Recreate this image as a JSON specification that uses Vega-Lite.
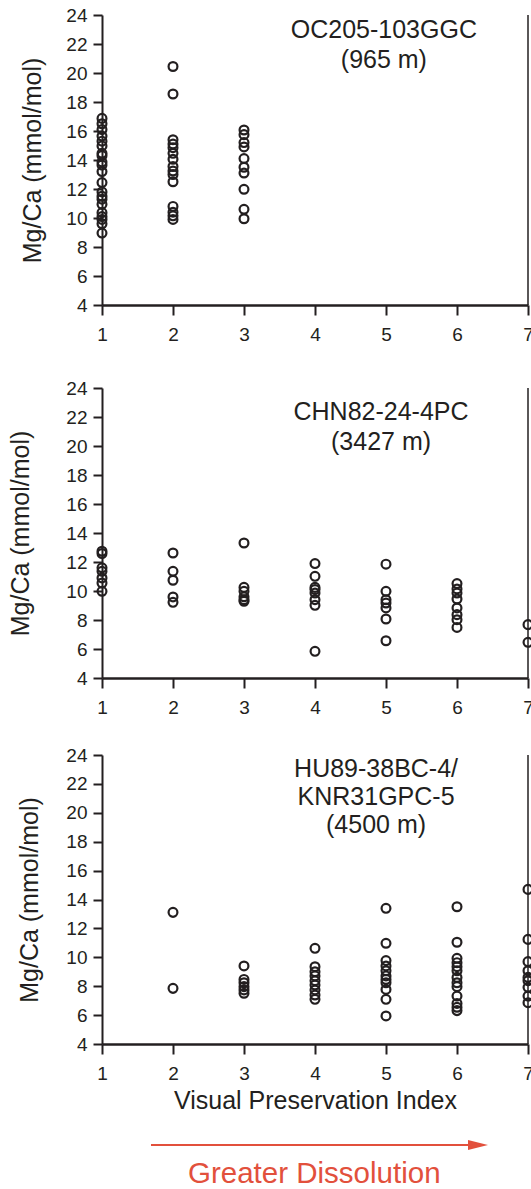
{
  "$schema": "https://vega.github.io/schema/vega-lite/v6.json",
  "padding": {"top": 6, "left": 8, "right": -4, "bottom": 0},
  "config": {
    "view": {"stroke": null},
    "font": "Liberation Sans",
    "axis": {
      "domainColor": "#231f20", "tickColor": "#231f20", "labelColor": "#231f20", "titleColor": "#231f20",
      "labelFont": "Liberation Sans", "titleFont": "Liberation Sans",
      "labelFontSize": 19, "titleFontSize": 25, "titleFontWeight": "normal",
      "grid": false, "tickWidth": 2, "domainWidth": 2, "labelFlush": false, "labelOverlap": false, "format": "d"
    },
    "axisX": {"tickSize": 10, "labelPadding": 10, "domainWidth": 2.5},
    "axisY": {"tickSize": 9, "labelPadding": 6}
  },
  "spacing": 35,
  "vconcat": [
    {
      "width": 426, "height": 290,
      "resolve": {"axis": {"x": "independent", "y": "independent"}},
      "layer": [
        {
          "data": {"values": [
            {"vpi": 1, "mgca": 16.87}, {"vpi": 1, "mgca": 16.5}, {"vpi": 1, "mgca": 16.1}, {"vpi": 1, "mgca": 15.65}, {"vpi": 1, "mgca": 15.3},
            {"vpi": 1, "mgca": 14.97}, {"vpi": 1, "mgca": 14.46}, {"vpi": 1, "mgca": 14.3}, {"vpi": 1, "mgca": 13.86}, {"vpi": 1, "mgca": 13.65},
            {"vpi": 1, "mgca": 13.2}, {"vpi": 1, "mgca": 12.44}, {"vpi": 1, "mgca": 11.8}, {"vpi": 1, "mgca": 11.5}, {"vpi": 1, "mgca": 11.3},
            {"vpi": 1, "mgca": 10.94}, {"vpi": 1, "mgca": 10.37}, {"vpi": 1, "mgca": 10.1}, {"vpi": 1, "mgca": 9.9}, {"vpi": 1, "mgca": 9.6},
            {"vpi": 1, "mgca": 8.96},
            {"vpi": 2, "mgca": 20.45}, {"vpi": 2, "mgca": 18.55}, {"vpi": 2, "mgca": 15.4}, {"vpi": 2, "mgca": 15.1}, {"vpi": 2, "mgca": 14.85},
            {"vpi": 2, "mgca": 14.46}, {"vpi": 2, "mgca": 14.05}, {"vpi": 2, "mgca": 13.55}, {"vpi": 2, "mgca": 13.24}, {"vpi": 2, "mgca": 13.0},
            {"vpi": 2, "mgca": 12.5}, {"vpi": 2, "mgca": 10.8}, {"vpi": 2, "mgca": 10.4}, {"vpi": 2, "mgca": 10.15}, {"vpi": 2, "mgca": 9.9},
            {"vpi": 3, "mgca": 16.07}, {"vpi": 3, "mgca": 15.75}, {"vpi": 3, "mgca": 15.2}, {"vpi": 3, "mgca": 14.9}, {"vpi": 3, "mgca": 14.1},
            {"vpi": 3, "mgca": 13.5}, {"vpi": 3, "mgca": 13.1}, {"vpi": 3, "mgca": 11.98}, {"vpi": 3, "mgca": 10.6}, {"vpi": 3, "mgca": 9.95}
          ]},
          "mark": {"type": "point", "filled": false, "size": 78, "strokeWidth": 2.2, "color": "#231f20", "opacity": 1},
          "encoding": {
            "x": {"field": "vpi", "type": "quantitative", "scale": {"domain": [1, 7], "nice": false, "zero": false},
                  "axis": {"values": [1, 2, 3, 4, 5, 6, 7], "title": null, "format": "d"}},
            "y": {"field": "mgca", "type": "quantitative", "scale": {"domain": [4, 24], "nice": false, "zero": false},
                  "axis": {"values": [4, 6, 8, 10, 12, 14, 16, 18, 20, 22, 24], "labelOverlap": false, "format": "d", "title": "Mg/Ca (mmol/mol)", "titlePadding": 20}}
          }
        },
        {
          "data": {"values": [{"x": 7, "y": 4, "y2": 24}]},
          "mark": {"type": "rule", "strokeWidth": 1.5, "color": "#231f20"},
          "encoding": {"x": {"field": "x", "type": "quantitative", "axis": null}, "y": {"field": "y", "type": "quantitative", "axis": null}, "y2": {"field": "y2"}}
        },
        {
          "data": {"values": [{"x": 4.97, "y": 22.41, "label": "OC205-103GGC\n(965 m)"}]},
          "mark": {"type": "text", "lineBreak": "\n", "fontSize": 25, "lineHeight": 30, "align": "center", "baseline": "alphabetic", "color": "#231f20"},
          "encoding": {"x": {"field": "x", "type": "quantitative", "axis": null}, "y": {"field": "y", "type": "quantitative", "axis": null}, "text": {"field": "label"}}
        }
      ]
    },
    {
      "spacing": 29,
      "vconcat": [
        {
          "width": 426, "height": 290,
          "resolve": {"axis": {"x": "independent", "y": "independent"}},
          "layer": [
            {
              "data": {"values": [
                {"vpi": 1, "mgca": 12.74}, {"vpi": 1, "mgca": 12.58}, {"vpi": 1, "mgca": 11.6}, {"vpi": 1, "mgca": 11.36}, {"vpi": 1, "mgca": 10.9},
                {"vpi": 1, "mgca": 10.55}, {"vpi": 1, "mgca": 9.98},
                {"vpi": 2, "mgca": 12.62}, {"vpi": 2, "mgca": 11.36}, {"vpi": 2, "mgca": 10.74}, {"vpi": 2, "mgca": 9.59}, {"vpi": 2, "mgca": 9.22},
                {"vpi": 3, "mgca": 13.31}, {"vpi": 3, "mgca": 10.25}, {"vpi": 3, "mgca": 9.98}, {"vpi": 3, "mgca": 9.6}, {"vpi": 3, "mgca": 9.4}, {"vpi": 3, "mgca": 9.29},
                {"vpi": 4, "mgca": 11.89}, {"vpi": 4, "mgca": 11.01}, {"vpi": 4, "mgca": 10.25}, {"vpi": 4, "mgca": 10.1}, {"vpi": 4, "mgca": 9.86},
                {"vpi": 4, "mgca": 9.4}, {"vpi": 4, "mgca": 9.01}, {"vpi": 4, "mgca": 5.84},
                {"vpi": 5, "mgca": 11.85}, {"vpi": 5, "mgca": 9.98}, {"vpi": 5, "mgca": 9.4}, {"vpi": 5, "mgca": 9.17}, {"vpi": 5, "mgca": 8.83},
                {"vpi": 5, "mgca": 8.07}, {"vpi": 5, "mgca": 6.57},
                {"vpi": 6, "mgca": 10.51}, {"vpi": 6, "mgca": 10.14}, {"vpi": 6, "mgca": 9.86}, {"vpi": 6, "mgca": 9.45}, {"vpi": 6, "mgca": 8.83},
                {"vpi": 6, "mgca": 8.37}, {"vpi": 6, "mgca": 8.02}, {"vpi": 6, "mgca": 7.49},
                {"vpi": 7, "mgca": 7.68}, {"vpi": 7, "mgca": 6.46}
              ]},
              "mark": {"type": "point", "filled": false, "size": 78, "strokeWidth": 2.2, "color": "#231f20", "opacity": 1},
              "encoding": {
                "x": {"field": "vpi", "type": "quantitative", "scale": {"domain": [1, 7], "nice": false, "zero": false},
                      "axis": {"values": [1, 2, 3, 4, 5, 6, 7], "title": null, "format": "d"}},
                "y": {"field": "mgca", "type": "quantitative", "scale": {"domain": [4, 24], "nice": false, "zero": false},
                      "axis": {"values": [4, 6, 8, 10, 12, 14, 16, 18, 20, 22, 24], "labelOverlap": false, "format": "d", "title": "Mg/Ca (mmol/mol)", "titlePadding": 32}}
              }
            },
            {
              "data": {"values": [{"x": 7, "y": 4, "y2": 24}]},
              "mark": {"type": "rule", "strokeWidth": 1.5, "color": "#231f20"},
              "encoding": {"x": {"field": "x", "type": "quantitative", "axis": null}, "y": {"field": "y", "type": "quantitative", "axis": null}, "y2": {"field": "y2"}}
            },
            {
              "data": {"values": [{"x": 4.93, "y": 21.79, "label": "CHN82-24-4PC\n(3427 m)"}]},
              "mark": {"type": "text", "lineBreak": "\n", "fontSize": 25, "lineHeight": 30, "align": "center", "baseline": "alphabetic", "color": "#231f20"},
              "encoding": {"x": {"field": "x", "type": "quantitative", "axis": null}, "y": {"field": "y", "type": "quantitative", "axis": null}, "text": {"field": "label"}}
            }
          ]
        },
        {
          "spacing": 17,
          "vconcat": [
            {
              "width": 426, "height": 289,
              "resolve": {"axis": {"x": "independent", "y": "independent"}},
              "layer": [
                {
                  "data": {"values": [
                    {"vpi": 2, "mgca": 13.11}, {"vpi": 2, "mgca": 7.85},
                    {"vpi": 3, "mgca": 9.4}, {"vpi": 3, "mgca": 8.47}, {"vpi": 3, "mgca": 8.24}, {"vpi": 3, "mgca": 7.97}, {"vpi": 3, "mgca": 7.74}, {"vpi": 3, "mgca": 7.51},
                    {"vpi": 4, "mgca": 10.62}, {"vpi": 4, "mgca": 9.35}, {"vpi": 4, "mgca": 9.0}, {"vpi": 4, "mgca": 8.71}, {"vpi": 4, "mgca": 8.38},
                    {"vpi": 4, "mgca": 8.08}, {"vpi": 4, "mgca": 7.74}, {"vpi": 4, "mgca": 7.39}, {"vpi": 4, "mgca": 7.09},
                    {"vpi": 5, "mgca": 13.39}, {"vpi": 5, "mgca": 10.97}, {"vpi": 5, "mgca": 9.77}, {"vpi": 5, "mgca": 9.4}, {"vpi": 5, "mgca": 9.07},
                    {"vpi": 5, "mgca": 8.71}, {"vpi": 5, "mgca": 8.47}, {"vpi": 5, "mgca": 8.24}, {"vpi": 5, "mgca": 7.78}, {"vpi": 5, "mgca": 7.09}, {"vpi": 5, "mgca": 5.94},
                    {"vpi": 6, "mgca": 13.5}, {"vpi": 6, "mgca": 11.04}, {"vpi": 6, "mgca": 9.93}, {"vpi": 6, "mgca": 9.63}, {"vpi": 6, "mgca": 9.35},
                    {"vpi": 6, "mgca": 9.07}, {"vpi": 6, "mgca": 8.61}, {"vpi": 6, "mgca": 8.24}, {"vpi": 6, "mgca": 7.97}, {"vpi": 6, "mgca": 7.32},
                    {"vpi": 6, "mgca": 6.81}, {"vpi": 6, "mgca": 6.54}, {"vpi": 6, "mgca": 6.31},
                    {"vpi": 7, "mgca": 14.7}, {"vpi": 7, "mgca": 11.24}, {"vpi": 7, "mgca": 9.7}, {"vpi": 7, "mgca": 9.07}, {"vpi": 7, "mgca": 8.61},
                    {"vpi": 7, "mgca": 8.38}, {"vpi": 7, "mgca": 7.92}, {"vpi": 7, "mgca": 7.32}, {"vpi": 7, "mgca": 6.86}
                  ]},
                  "mark": {"type": "point", "filled": false, "size": 78, "strokeWidth": 2.2, "color": "#231f20", "opacity": 1},
                  "encoding": {
                    "x": {"field": "vpi", "type": "quantitative", "scale": {"domain": [1, 7], "nice": false, "zero": false},
                          "axis": {"values": [1, 2, 3, 4, 5, 6, 7], "format": "d", "title": "Visual Preservation Index", "titlePadding": 5}},
                    "y": {"field": "mgca", "type": "quantitative", "scale": {"domain": [4, 24], "nice": false, "zero": false},
                          "axis": {"values": [4, 6, 8, 10, 12, 14, 16, 18, 20, 22, 24], "labelOverlap": false, "format": "d", "title": "Mg/Ca (mmol/mol)", "titlePadding": 23}}
                  }
                },
                {
                  "data": {"values": [{"x": 7, "y": 4, "y2": 24}]},
                  "mark": {"type": "rule", "strokeWidth": 1.5, "color": "#231f20"},
                  "encoding": {"x": {"field": "x", "type": "quantitative", "axis": null}, "y": {"field": "y", "type": "quantitative", "axis": null}, "y2": {"field": "y2"}}
                },
                {
                  "data": {"values": [{"x": 4.86, "y": 22.48, "label": "HU89-38BC-4/\nKNR31GPC-5\n(4500 m)"}]},
                  "mark": {"type": "text", "lineBreak": "\n", "fontSize": 25, "lineHeight": 28, "align": "center", "baseline": "alphabetic", "color": "#231f20"},
                  "encoding": {"x": {"field": "x", "type": "quantitative", "axis": null}, "y": {"field": "y", "type": "quantitative", "axis": null}, "text": {"field": "label"}}
                }
              ]
            },
            {
              "width": 426, "height": 57,
              "layer": [
                {
                  "data": {"values": [{"x": 1.69, "x2": 6.3, "y": 0.737}]},
                  "mark": {"type": "rule", "color": "#E2503C", "strokeWidth": 2},
                  "encoding": {
                    "x": {"field": "x", "type": "quantitative", "scale": {"domain": [1, 7], "nice": false, "zero": false}, "axis": null},
                    "x2": {"field": "x2"},
                    "y": {"field": "y", "type": "quantitative", "scale": {"domain": [0, 1], "nice": false}, "axis": null}
                  }
                },
                {
                  "data": {"values": [{"x": 6.296, "y": 0.737}]},
                  "mark": {"type": "point", "shape": "M -1 -0.5 L 1 0 L -1 0.5 Z", "size": 400, "filled": true, "color": "#E2503C", "opacity": 1, "strokeWidth": 0},
                  "encoding": {"x": {"field": "x", "type": "quantitative"}, "y": {"field": "y", "type": "quantitative"}}
                },
                {
                  "data": {"values": [{"x": 3.99, "y": 0.07, "label": "Greater Dissolution"}]},
                  "mark": {"type": "text", "fontSize": 29.5, "color": "#E2503C", "align": "center", "baseline": "alphabetic"},
                  "encoding": {"x": {"field": "x", "type": "quantitative"}, "y": {"field": "y", "type": "quantitative"}, "text": {"field": "label"}}
                }
              ]
            }
          ]
        }
      ]
    }
  ]
}
